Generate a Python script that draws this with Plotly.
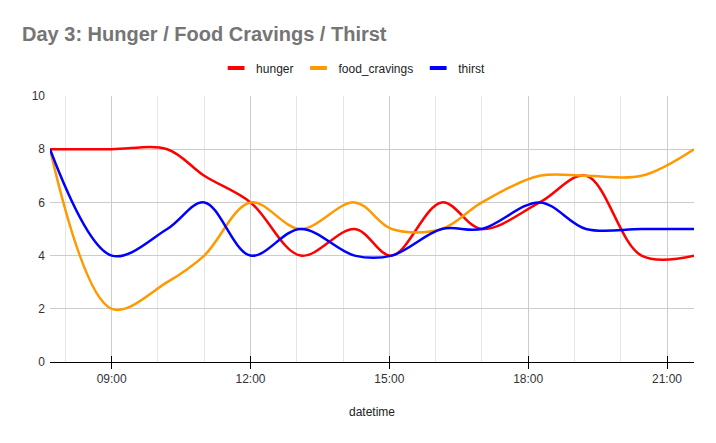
import plotly.graph_objects as go

times = ["2023-01-03 07:40", "2023-01-03 09:00", "2023-01-03 10:12", "2023-01-03 11:00",
         "2023-01-03 12:00", "2023-01-03 13:05", "2023-01-03 14:15", "2023-01-03 15:03",
         "2023-01-03 16:08", "2023-01-03 17:00", "2023-01-03 18:15", "2023-01-03 19:15",
         "2023-01-03 20:27", "2023-01-03 21:35"]
hunger = [8, 8, 8, 7, 6, 4, 5, 4, 6, 5, 6, 7, 4, 4]
food_cravings = [8, 2, 3, 4, 6, 5, 6, 5, 5, 6, 7, 7, 7, 8]
thirst = [8, 4, 5, 6, 4, 5, 4, 4, 5, 5, 6, 5, 5, 5]

series = [("hunger", hunger, "#ff0000"),
          ("food_cravings", food_cravings, "#ff9900"),
          ("thirst", thirst, "#0000ff")]

FONT = "Arial, Liberation Sans, sans-serif"

fig = go.Figure()
for name, vals, col in series:
    fig.add_trace(go.Scatter(x=times, y=vals, name=name, mode="lines", showlegend=False,
                             legendgroup=name,
                             line=dict(color=col, width=2.5, shape="spline", smoothing=1)))
# legend entries with short bar symbols (no data drawn)
for name, vals, col in series:
    fig.add_trace(go.Scatter(x=[None], y=[None], name=name, mode="markers", legendgroup=name,
                             marker=dict(symbol="line-ew-open", size=12, color=col,
                                         line=dict(color=col, width=4))))

xrange = [times[0], times[-1]]
fig.update_layout(
    width=716, height=443,
    margin=dict(l=42, r=30, t=88, b=89, autoexpand=False),
    paper_bgcolor="white", plot_bgcolor="white",
    font=dict(family=FONT, size=12, color="#333333"),
    title=dict(text="<b>Day 3: Hunger / Food Cravings / Thirst</b>",
               x=0.0196, xanchor="left", xref="container",
               y=0.941, yanchor="middle", yref="container",
               font=dict(size=20, color="#757575", family=FONT)),
    legend=dict(orientation="h", xref="container", x=0.482, xanchor="center",
                y=1.105, yanchor="middle", itemsizing="trace",
                font=dict(size=12, color="#222222", family=FONT), itemwidth=30),
    xaxis=dict(type="date", range=xrange, tickformat="%H:%M",
               tick0="2023-01-03 00:00", dtick=3 * 3600000,
               showgrid=True, gridcolor="#cccccc", gridwidth=1,
               minor=dict(dtick=3600000, showgrid=True, gridcolor="#e6e6e6"),
               showline=True, linecolor="#000000", linewidth=1,
               ticks="outside", ticklen=6, tickcolor="#000000",
               tickfont=dict(size=12, color="#333333"),
               title=dict(text="datetime", font=dict(size=12, color="#222222"), standoff=22),
               zeroline=False),
    xaxis2=dict(type="date", range=xrange, overlaying="x", matches="x",
                tick0="2023-01-03 00:00", dtick=3 * 3600000,
                ticks="inside", ticklen=6, tickcolor="#000000", showticklabels=False,
                showgrid=False, side="bottom"),
    yaxis=dict(range=[0, 10], dtick=2, showgrid=True, gridcolor="#cccccc",
               zeroline=False, tickfont=dict(size=12, color="#333333"), ticks="",
               ticklabelstandoff=4),
)
fig.add_trace(go.Scatter(x=times, y=[None] * len(times), xaxis="x2", showlegend=False,
                         hoverinfo="skip", mode="lines"))
fig.write_html("out.html")
